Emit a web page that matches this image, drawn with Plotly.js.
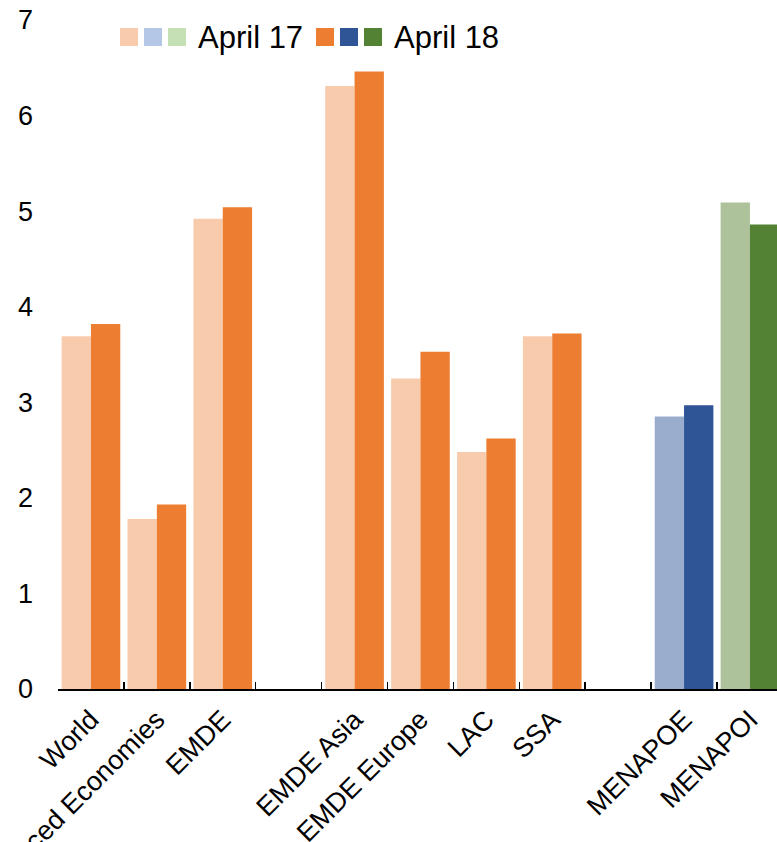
<!DOCTYPE html>
<html>
<head>
<meta charset="utf-8">
<script src="https://cdn.plot.ly/plotly-3.0.1.min.js"></script>
<style>
  html, body { margin: 0; padding: 0; background: #ffffff; overflow: hidden; }
  #chart { width: 777px; height: 842px; }
</style>
</head>
<body>
<div id="chart"></div>
<script>
// Category order along the x axis (blank entries leave a gap between groups)
const categories = ["World", "Advanced Economies", "EMDE", " ",
                    "EMDE Asia", "EMDE Europe", "LAC", "SSA", "  ",
                    "MENAPOE", "MENAPOI"];

// Aggregates and regions
const regionCats  = ["World", "Advanced Economies", "EMDE", "EMDE Asia", "EMDE Europe", "LAC", "SSA"];
const regionApr17 = [3.69, 1.78, 4.92, 6.31, 3.25, 2.48, 3.69];
const regionApr18 = [3.82, 1.93, 5.04, 6.46, 3.53, 2.62, 3.72];

// MENA oil exporters
const exporterCats  = ["MENAPOE"];
const exporterApr17 = [2.85];
const exporterApr18 = [2.97];

// MENA oil importers
const importerCats  = ["MENAPOI"];
const importerApr17 = [5.09];
const importerApr18 = [4.86];

// Legend
const legendApr17Colors = ["#f8cbad", "#b4c7e7", "#c5e0b4"];
const legendApr18Colors = ["#ed7d31", "#2f5597", "#548235"];
const legendLabels = ["April 17", "April 18"];

const yTicks = [0, 1, 2, 3, 4, 5, 6, 7];

const font = "Liberation Sans, Arial, Helvetica, sans-serif";

function barTrace(x, y, color, group) {
  return {
    type: "bar", x: x, y: y, offsetgroup: group,
    marker: { color: color, line: { width: 0 } },
    hoverinfo: "x+y", showlegend: false
  };
}

const data = [
  barTrace(regionCats,   regionApr17,   "#f8cbad", "apr17"),
  barTrace(exporterCats, exporterApr17, "#9aadcd", "apr17"),
  barTrace(importerCats, importerApr17, "#adc29b", "apr17"),
  barTrace(regionCats,   regionApr18,   "#ed7d31", "apr18"),
  barTrace(exporterCats, exporterApr18, "#2f5597", "apr18"),
  barTrace(importerCats, importerApr18, "#548235", "apr18")
];

// Plot area geometry (pixels)
const W = 777, H = 842;
const M = { l: 58, r: 0, t: 20, b: 153 };
const plotW = W - M.l - M.r, plotH = H - M.t - M.b;
const catWidth = 65.9;
const px2x = px => (px - M.l) / plotW;
const py2y = py => (H - M.b - py) / plotH;

// Hand-built legend: three swatches per release, then its label
const shapes = [];
const annotations = [];
const swatch = 18, step = 24;
[[120, legendApr17Colors, 197], [316, legendApr18Colors, 393]].forEach((row, r) => {
  row[1].forEach((c, i) => {
    const x0 = row[0] + i * step;
    shapes.push({
      type: "rect", xref: "paper", yref: "paper",
      x0: px2x(x0), x1: px2x(x0 + swatch),
      y0: py2y(28 + swatch), y1: py2y(28),
      fillcolor: c, line: { width: 0 }, layer: "above"
    });
  });
  annotations.push({
    xref: "paper", yref: "paper", x: px2x(row[2]), y: py2y(38),
    xanchor: "left", yanchor: "middle", showarrow: false,
    text: legendLabels[r], font: { family: font, size: 31, color: "#000" },
    borderpad: 0
  });
});

const layout = {
  width: W, height: H,
  margin: M,
  paper_bgcolor: "#ffffff", plot_bgcolor: "#ffffff",
  font: { family: font, size: 27, color: "#000" },
  barmode: "group", bargap: 0.11, bargroupgap: 0,
  showlegend: false,
  xaxis: {
    type: "category",
    categoryorder: "array", categoryarray: categories,
    range: [-0.5, -0.5 + plotW / catWidth],
    showline: true, linecolor: "#000", linewidth: 2,
    ticks: "inside", tickson: "boundaries", ticklen: 7, tickwidth: 1.5, tickcolor: "#000",
    tickangle: -45, tickfont: { family: font, size: 27, color: "#000" },
    ticklabelstandoff: 2,
    showgrid: false, zeroline: false, automargin: false, fixedrange: true
  },
  yaxis: {
    range: [0, 7], tickmode: "array", tickvals: yTicks,
    ticks: "", showline: false, showgrid: false, zeroline: false,
    tickfont: { family: font, size: 27, color: "#000" },
    ticklabelstandoff: 24, automargin: false, fixedrange: true
  },
  shapes: shapes,
  annotations: annotations
};

Plotly.newPlot("chart", data, layout, { displayModeBar: false, staticPlot: true });
</script>
</body>
</html>
